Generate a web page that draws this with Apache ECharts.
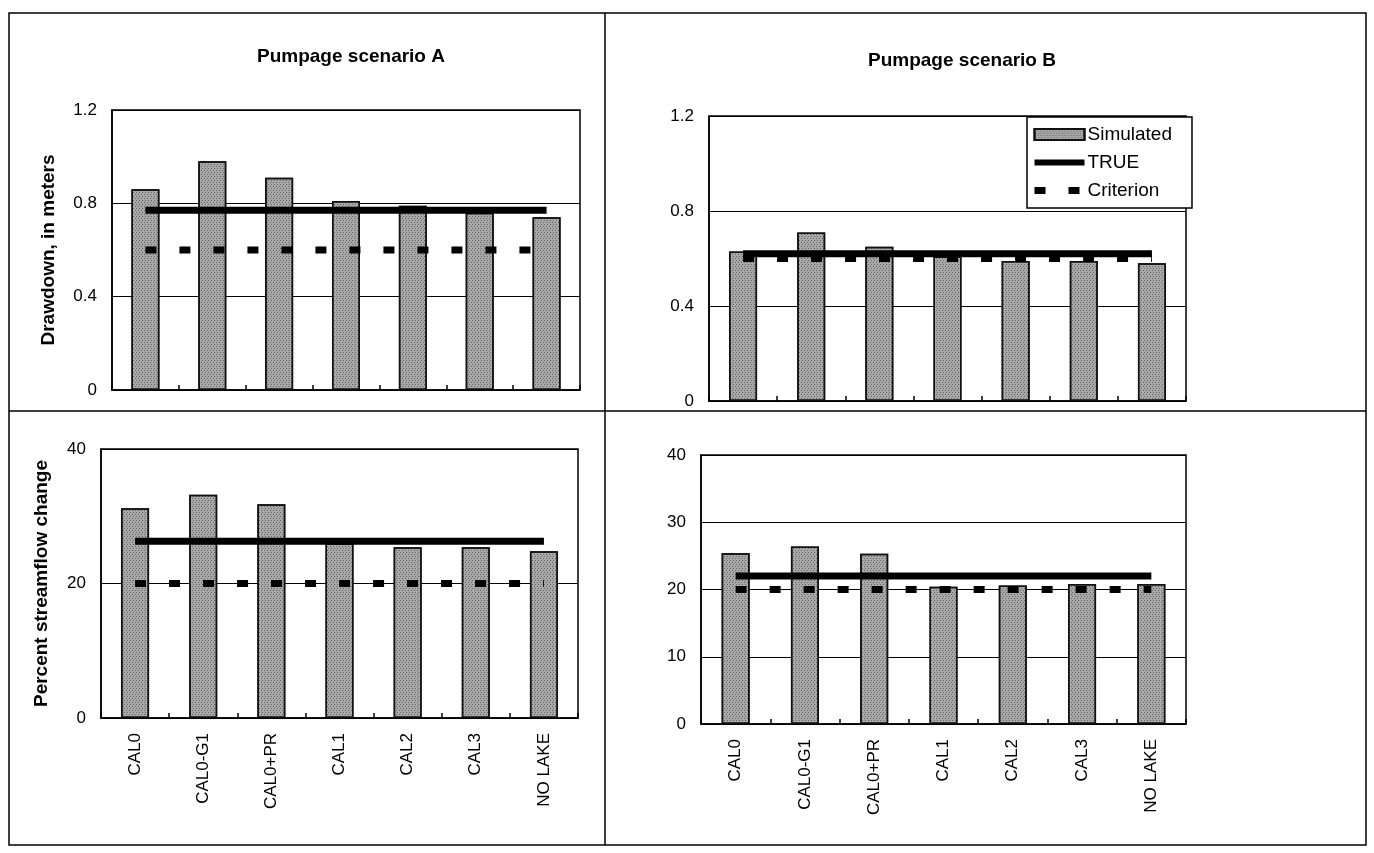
<!DOCTYPE html>
<html>
<head>
<meta charset="utf-8">
<script src="https://cdn.jsdelivr.net/npm/echarts@6/dist/echarts.min.js"></script>
<style>
  html, body { margin: 0; padding: 0; background: #fff; }
  #chart { width: 1374px; height: 853px; }
</style>
</head>
<body>
<div id="chart"></div>
<script>
// Calibration variants shown on the category axis
const categories = ['CAL0', 'CAL0-G1', 'CAL0+PR', 'CAL1', 'CAL2', 'CAL3', 'NO LAKE'];

// Drawdown, in meters (top row)
const drawdownSimA = [0.86, 0.98, 0.91, 0.81, 0.79, 0.76, 0.74];
const drawdownTrueA = [0.77, 0.77, 0.77, 0.77, 0.77, 0.77, 0.77];
const drawdownCritA = [0.6, 0.6, 0.6, 0.6, 0.6, 0.6, 0.6];

const drawdownSimB = [0.63, 0.71, 0.65, 0.61, 0.59, 0.59, 0.58];
const drawdownTrueB = [0.62, 0.62, 0.62, 0.62, 0.62, 0.62, 0.62];
const drawdownCritB = [0.6, 0.6, 0.6, 0.6, 0.6, 0.6, 0.6];

// Percent streamflow change (bottom row)
const streamSimA = [31.2, 33.2, 31.8, 26.0, 25.4, 25.4, 24.8];
const streamTrueA = [26.3, 26.3, 26.3, 26.3, 26.3, 26.3, 26.3];
const streamCritA = [20, 20, 20, 20, 20, 20, 20];

const streamSimB = [25.4, 26.4, 25.3, 20.4, 20.6, 20.8, 20.8];
const streamTrueB = [22, 22, 22, 22, 22, 22, 22];
const streamCritB = [20, 20, 20, 20, 20, 20, 20];

const panelTitles = ['Pumpage scenario A', 'Pumpage scenario B'];
const yNames = ['Drawdown, in meters', 'Percent streamflow change'];
const legendNames = ['Simulated', 'TRUE', 'Criterion'];

const FONT = '"Liberation Sans", Arial, Helvetica, sans-serif';

const grids = [
  { left: 112, top: 110, width: 468, height: 280 },   // A drawdown
  { left: 709, top: 116, width: 477, height: 285 },   // B drawdown
  { left: 101, top: 449, width: 477, height: 269 },   // A streamflow
  { left: 701, top: 455, width: 485, height: 269 }    // B streamflow
].map(g => Object.assign({
  show: true, borderColor: '#000', borderWidth: 1.5, backgroundColor: '#fff',
  containLabel: false
}, g));

function xAxis(gridIndex, showLabels) {
  return {
    type: 'category', gridIndex, data: categories,
    axisLine: { lineStyle: { color: '#000', width: 1.5 } },
    axisTick: { show: true, inside: true, length: 5, lineStyle: { color: '#000', width: 1.5 } },
    axisLabel: {
      show: showLabels, rotate: 90, margin: 15, interval: 0,
      color: '#000', fontFamily: FONT, fontSize: 17
    }
  };
}

function yAxis(gridIndex, max, interval, name, nameGap) {
  return {
    type: 'value', gridIndex, min: 0, max, interval,
    name, nameLocation: 'middle', nameGap, nameRotate: 90,
    nameTextStyle: { color: '#000', fontFamily: FONT, fontSize: 19, fontWeight: 'bold' },
    axisLine: { show: true, lineStyle: { color: '#000', width: 1.5 } },
    axisTick: { show: false },
    axisLabel: { color: '#000', fontFamily: FONT, fontSize: 17, margin: 15 },
    splitLine: { show: true, lineStyle: { color: '#000', width: 1 } }
  };
}

const barStyle = {
  color: '#a9a9a9',
  borderColor: '#111',
  borderWidth: 1.5,
  decal: {
    symbol: 'rect', symbolSize: 1,
    color: 'rgba(30,30,30,0.5)',
    dashArrayX: [[1, 2], [0, 1, 1, 1]],
    dashArrayY: [1, 1],
    rotation: 0
  }
};

const CRIT_DASH = [11, 23];

function panelSeries(idx, sim, tru, crit) {
  return [
    {
      name: legendNames[0], type: 'bar', xAxisIndex: idx, yAxisIndex: idx,
      data: sim, barWidth: 28, itemStyle: barStyle, z: 2
    },
    {
      name: legendNames[1], type: 'line', xAxisIndex: idx, yAxisIndex: idx,
      data: tru, symbol: 'none', silent: true, z: 3,
      lineStyle: { color: '#000', width: 7, cap: 'butt' },
      itemStyle: { color: '#000' }
    },
    {
      name: legendNames[2], type: 'line', xAxisIndex: idx, yAxisIndex: idx,
      data: crit, symbol: 'none', silent: true, z: 4,
      lineStyle: { color: '#000', width: 7, type: CRIT_DASH, cap: 'butt' },
      itemStyle: { color: '#000' }
    }
  ];
}

// Panel frame: outer border plus the dividers between the four panels
const frame = [
  { type: 'rect', shape: { x: 9, y: 13, width: 1357, height: 832 },
    style: { fill: 'none', stroke: '#000', lineWidth: 1.5 }, z: -10, silent: true },
  { type: 'line', shape: { x1: 605, y1: 13, x2: 605, y2: 845 },
    style: { stroke: '#000', lineWidth: 1.5 }, z: -10, silent: true },
  { type: 'line', shape: { x1: 9, y1: 411, x2: 1366, y2: 411 },
    style: { stroke: '#000', lineWidth: 1.5 }, z: -10, silent: true }
];

const hiddenSymbol = { color: 'rgba(0,0,0,0)', borderWidth: 0, opacity: 0 };

const chart = echarts.init(document.getElementById('chart'), null, { renderer: 'canvas' });

chart.setOption({
  animation: false,
  backgroundColor: '#fff',
  textStyle: { fontFamily: FONT },
  title: [
    { text: panelTitles[0], left: 346, top: 42, textAlign: 'center',
      textStyle: { fontFamily: FONT, fontSize: 19, fontWeight: 'bold', color: '#000' } },
    { text: panelTitles[1], left: 957, top: 46, textAlign: 'center',
      textStyle: { fontFamily: FONT, fontSize: 19, fontWeight: 'bold', color: '#000' } }
  ],
  legend: {
    data: [
      { name: legendNames[0], icon: 'rect' },
      { name: legendNames[1], itemStyle: hiddenSymbol,
        lineStyle: { width: 6, color: '#000', type: 'solid' } },
      { name: legendNames[2], itemStyle: hiddenSymbol,
        lineStyle: { width: 7, color: '#000', type: CRIT_DASH } }
    ],
    orient: 'vertical',
    left: 1027, top: 117,
    itemWidth: 50, itemHeight: 11, itemGap: 9,
    padding: [8, 20, 8, 4],
    backgroundColor: '#fff',
    borderColor: '#000', borderWidth: 1.5,
    textStyle: { fontFamily: FONT, fontSize: 19, color: '#000', padding: [0, 0, 0, -2] },
    selectedMode: false,
    z: 20
  },
  graphic: frame,
  grid: grids,
  xAxis: [xAxis(0, false), xAxis(1, false), xAxis(2, true), xAxis(3, true)],
  yAxis: [
    yAxis(0, 1.2, 0.4, yNames[0], 54),
    yAxis(1, 1.2, 0.4, '', 40),
    yAxis(2, 40, 20, yNames[1], 50),
    yAxis(3, 40, 10, '', 40)
  ],
  series: [].concat(
    panelSeries(0, drawdownSimA, drawdownTrueA, drawdownCritA),
    panelSeries(1, drawdownSimB, drawdownTrueB, drawdownCritB),
    panelSeries(2, streamSimA, streamTrueA, streamCritA),
    panelSeries(3, streamSimB, streamTrueB, streamCritB)
  )
});
</script>
</body>
</html>
